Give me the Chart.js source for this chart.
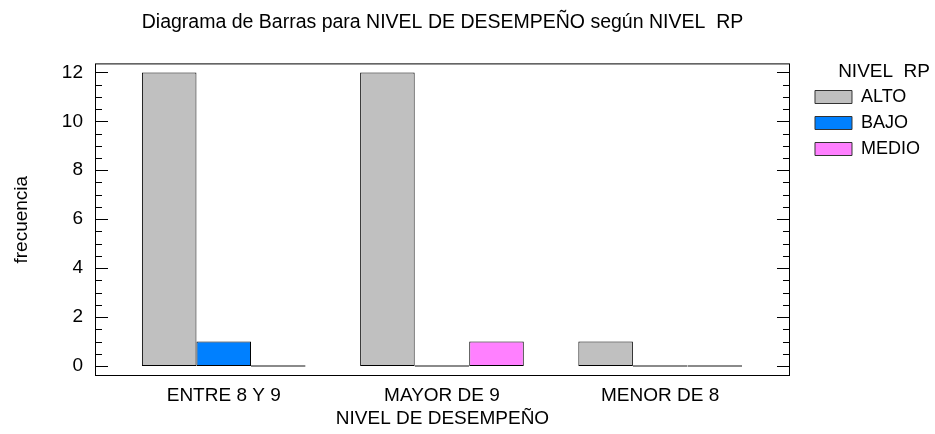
<!DOCTYPE html>
<html lang="es">
<head>
    <meta charset="UTF-8">
    <title>Diagrama de Barras - NIVEL DE DESEMPEÑO</title>
    <script src="https://cdn.jsdelivr.net/npm/chart.js@4.4.1/dist/chart.umd.min.js"></script>
    <style>
        * {
            margin: 0;
            padding: 0;
            box-sizing: border-box;
        }
        html, body {
            width: 935px;
            height: 434px;
            background: #fff;
            overflow: hidden;
        }
        .chart-box {
            position: relative;
            width: 935px;
            height: 434px;
        }
    </style>
</head>
<body>
    <div class="chart-box">
        <canvas id="barChart"></canvas>
    </div>

    <script>
        // data
        const categories = ['ENTRE 8 Y 9', 'MAYOR DE 9', 'MENOR DE 8'];
        const seriesNames = ['ALTO', 'BAJO', 'MEDIO'];
        const alto = [12, 12, 1];
        const bajo = [1, 0, 0];
        const medio = [0, 1, 0];
        const yTicks = [0, 2, 4, 6, 8, 10, 12];
        const yMinorStep = 0.5;

        const colors = ['#c0c0c0', '#0080ff', '#ff80ff'];
        const zeroColor = '#8a8a8a';

        Chart.defaults.font.family = "'Liberation Sans', Arial, sans-serif";
        Chart.defaults.color = '#000';

        const font = { size: 19 };

        // frame round the plot with inward ticks on both sides
        const framePlugin = {
            id: 'frame',
            afterDraw(chart) {
                const ctx = chart.ctx;
                const a = chart.chartArea;
                const y = chart.scales.y;
                ctx.save();
                ctx.strokeStyle = '#000';
                ctx.lineWidth = 1;
                ctx.strokeRect(a.left + 0.5, a.top + 0.5, a.right - a.left - 1, a.bottom - a.top - 1);
                ctx.beginPath();
                const last = yTicks[yTicks.length - 1];
                for (let v = yTicks[0]; v <= last + 1e-9; v += yMinorStep) {
                    const py = Math.round(y.getPixelForValue(v)) + 0.5;
                    const len = yTicks.includes(v) ? 13 : 7;
                    ctx.moveTo(a.left, py);
                    ctx.lineTo(a.left + len, py);
                    ctx.moveTo(a.right, py);
                    ctx.lineTo(a.right - len, py);
                }
                ctx.stroke();
                ctx.restore();
            }
        };

        function makeSet(name, values, i) {
            return {
                label: name,
                data: values.map((v, k) => ({ x: k, y: v })),
                backgroundColor: c => (c.raw && c.raw.y === 0) ? zeroColor : colors[i],
                borderColor: c => (c.raw && c.raw.y === 0) ? zeroColor : '#000',
                borderWidth: 1,
                borderSkipped: false,
                minBarLength: 2,
                categoryPercentage: 0.75,
                barPercentage: 1
            };
        }

        // legend swatches take the series colour, not the colour of the first bar
        function legendLabels(chart) {
            const items = Chart.defaults.plugins.legend.labels.generateLabels(chart);
            items.forEach((it, i) => {
                it.fillStyle = colors[i];
                it.strokeStyle = '#333';
                it.lineWidth = 1;
            });
            return items;
        }

        const ctx = document.getElementById('barChart').getContext('2d');
        new Chart(ctx, {
            type: 'bar',
            data: {
                datasets: [
                    makeSet(seriesNames[0], alto, 0),
                    makeSet(seriesNames[1], bajo, 1),
                    makeSet(seriesNames[2], medio, 2)
                ]
            },
            options: {
                responsive: true,
                maintainAspectRatio: false,
                animation: false,
                layout: { padding: { left: 0, right: 5, top: 0, bottom: 0 } },
                scales: {
                    x: {
                        type: 'linear',
                        min: -0.59,
                        max: 2.595,
                        offset: false,
                        afterBuildTicks: s => { s.ticks = categories.map((c, i) => ({ value: i })); },
                        ticks: {
                            callback: v => categories[v],
                            autoSkip: false,
                            maxRotation: 0,
                            padding: 8,
                            font: font
                        },
                        grid: { display: false, drawTicks: false },
                        border: { display: false },
                        title: {
                            display: true,
                            text: 'NIVEL DE DESEMPEÑO',
                            font: font,
                            padding: { top: 0, bottom: 4 }
                        },
                        afterFit: s => { s.height = 58; }
                    },
                    y: {
                        min: -0.408,
                        max: 12.367,
                        afterBuildTicks: s => { s.ticks = yTicks.map(v => ({ value: v })); },
                        ticks: { padding: 12, font: font },
                        grid: { display: false, drawTicks: false },
                        border: { display: false },
                        title: {
                            display: true,
                            text: 'frecuencia',
                            font: font,
                            padding: { top: 10, bottom: 0 }
                        },
                        afterFit: s => { s.width = 95; }
                    },
                    y2: {
                        position: 'right',
                        min: -0.408,
                        max: 12.367,
                        ticks: { display: false },
                        grid: { display: false, drawTicks: false },
                        border: { display: false },
                        afterFit: s => { s.width = 17; }
                    }
                },
                plugins: {
                    title: {
                        display: true,
                        text: 'Diagrama de Barras para NIVEL DE DESEMPEÑO según NIVEL  RP',
                        font: { size: 19.5, weight: 'normal' },
                        color: '#000',
                        fullSize: false,
                        padding: { top: 11, bottom: 29 }
                    },
                    legend: {
                        position: 'right',
                        align: 'start',
                        labels: {
                            boxWidth: 37,
                            boxHeight: 13,
                            padding: 8,
                            font: { size: 18 },
                            color: '#000',
                            generateLabels: legendLabels
                        },
                        title: {
                            display: true,
                            text: 'NIVEL  RP',
                            position: 'end',
                            font: { size: 19, lineHeight: 1 },
                            color: '#000',
                            padding: { top: 62, bottom: -1 }
                        }
                    },
                    tooltip: { enabled: false }
                }
            },
            plugins: [framePlugin]
        });
    </script>
</body>
</html>
